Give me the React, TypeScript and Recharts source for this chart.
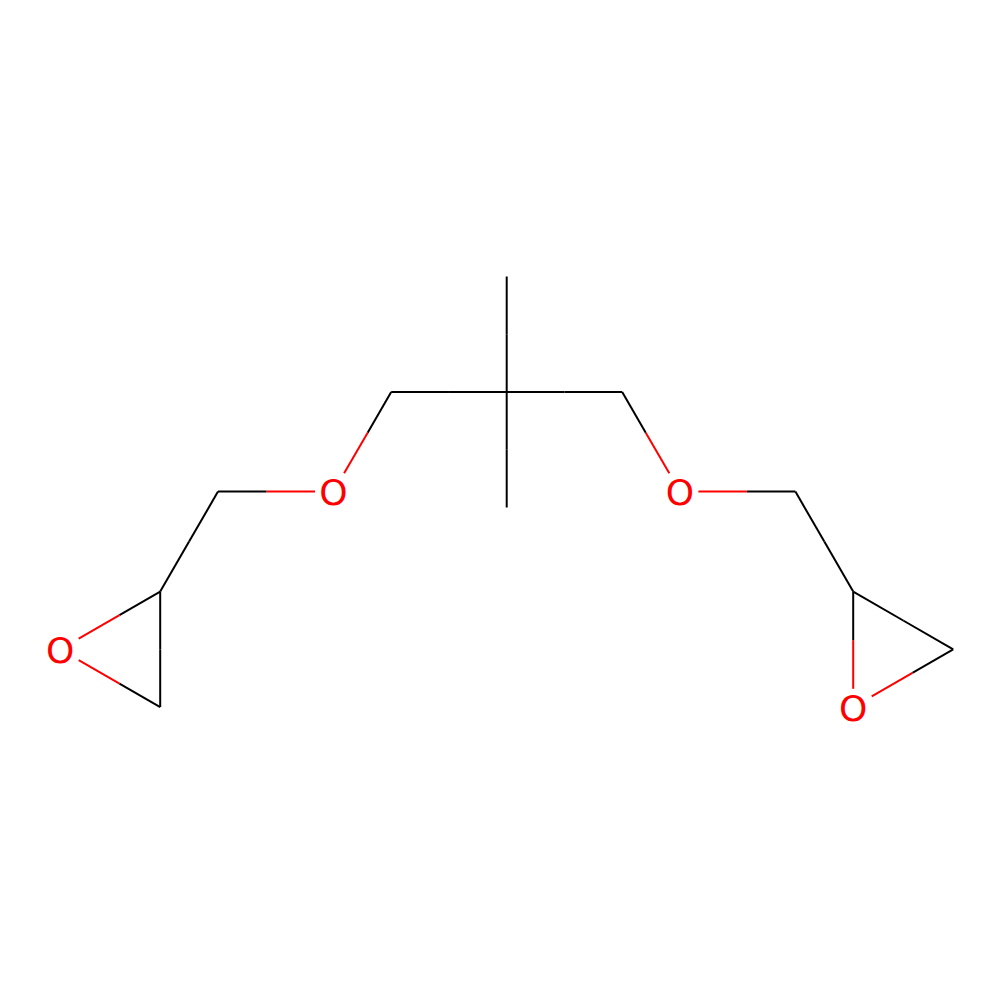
import React from "react";
import { ScatterChart, Scatter, XAxis, YAxis } from "recharts";

// Atom positions (drawing coordinates, y grows downward) and element symbols
const atomX = [506.7, 506.7, 506.7, 391.2, 622.2, 333.5, 679.9, 218.0, 795.4, 160.2, 60.2, 160.2, 853.2, 953.2, 853.2];
const atomY = [392.0, 276.5, 507.5, 392.0, 392.0, 491.6, 491.6, 491.6, 491.6, 591.6, 649.4, 707.1, 591.6, 649.4, 707.1];
const atomElement = ["C", "C", "C", "C", "C", "O", "O", "C", "C", "C", "O", "C", "C", "C", "O"];

// Bonds as pairs of atom indices
const bondFrom = [0, 0, 0, 0, 3, 4, 5, 6, 7, 9, 10, 11, 8, 12, 13, 14];
const bondTo = [1, 2, 3, 4, 5, 6, 7, 8, 9, 10, 11, 9, 12, 13, 14, 12];

const elementColor: Record<string, string> = { C: "#000000", O: "#FF0000" };
const LABEL_HW = 18.5;
const LABEL_HH = 18.3;

type Pt = { x: number; y: number };

function clipToLabel(from: Pt, at: Pt): Pt {
  // move endpoint 'at' toward 'from' until it leaves the label box
  const dx = from.x - at.x;
  const dy = from.y - at.y;
  const tx = dx === 0 ? Infinity : LABEL_HW / Math.abs(dx);
  const ty = dy === 0 ? Infinity : LABEL_HH / Math.abs(dy);
  const t = Math.min(tx, ty);
  return { x: at.x + dx * t, y: at.y + dy * t };
}

const segments: { pts: Pt[]; color: string }[] = [];
bondFrom.forEach((a, i) => {
  const b = bondTo[i];
  let p: Pt = { x: atomX[a], y: atomY[a] };
  let q: Pt = { x: atomX[b], y: atomY[b] };
  const la = atomElement[a] !== "C";
  const lb = atomElement[b] !== "C";
  const p0 = p;
  if (la) p = clipToLabel(q, p0);
  if (lb) q = clipToLabel(p0, q);
  const m = { x: (p.x + q.x) / 2, y: (p.y + q.y) / 2 };
  segments.push({ pts: [p, m], color: elementColor[atomElement[a]] });
  segments.push({ pts: [m, q], color: elementColor[atomElement[b]] });
});

const labelAtoms = atomElement
  .map((el, i) => ({ x: atomX[i], y: atomY[i], el }))
  .filter((d) => d.el !== "C");

const Empty = () => <g />;

const LabelShape = (props: any) => {
  const { cx, cy, payload } = props;
  return (
    <text
      x={cx}
      y={cy + 13.5}
      textAnchor="middle"
      fontFamily="DejaVu Sans"
      fontSize={36}
      fill={elementColor[payload.el]}
    >
      {payload.el}
    </text>
  );
};

export default function App() {
  return (
    <div style={{ position: "absolute", left: 0, top: 0, width: 1000, height: 1000, background: "#fff" }}>
      <ScatterChart width={1000} height={1000} margin={{ top: 0, right: 0, bottom: 0, left: 0 }}>
        <XAxis type="number" dataKey="x" domain={[0, 1000]} hide allowDataOverflow />
        <YAxis type="number" dataKey="y" domain={[0, 1000]} reversed hide allowDataOverflow width={0} />
        {segments.map((s, i) => (
          <Scatter
            key={i}
            data={s.pts}
            line={{ stroke: s.color, strokeWidth: 2 }}
            shape={Empty}
            isAnimationActive={false}
          />
        ))}
        <Scatter data={labelAtoms} shape={LabelShape} isAnimationActive={false} />
      </ScatterChart>
    </div>
  );
}
